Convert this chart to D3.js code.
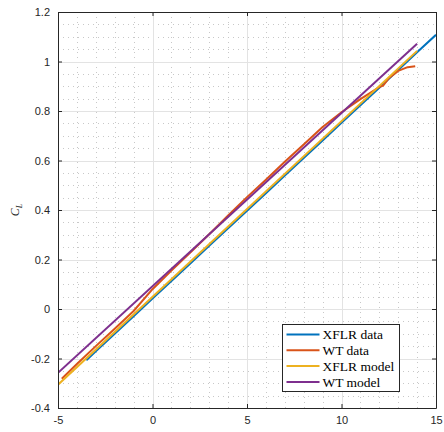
<!DOCTYPE html>
<html>
<head>
<meta charset="utf-8">
<script src="https://cdn.jsdelivr.net/npm/d3@7"></script>
<style>
  html, body { margin: 0; padding: 0; background: #fff; }
  svg { display: block; }
</style>
</head>
<body>
<div id="chart"></div>
<script>
// ---- data ----
const seriesNames = ["XFLR data", "WT data", "XFLR model", "WT model"];
const seriesColors = ["#0072BD", "#D95319", "#EDB120", "#7E2F8E"];

const xflrDataAlpha = [-3.5, -3, -2, -1, 0, 1, 2, 3, 4, 5, 6, 7, 8, 9, 10, 11, 12, 13, 14, 15];
const xflrDataCL    = [-0.207, -0.171, -0.100, -0.029, 0.042, 0.113, 0.184, 0.255, 0.326, 0.397,
                       0.468, 0.539, 0.610, 0.681, 0.752, 0.823, 0.894, 0.966, 1.037, 1.108];

const wtDataAlpha = [-4.8, -4, -3, -2, -1, 0, 1, 2, 3, 4, 5, 6, 7, 8, 9, 10, 11, 11.5, 12, 12.2, 12.5, 13, 13.5, 13.9];
const wtDataCL    = [-0.282, -0.222, -0.150, -0.080, -0.008, 0.080, 0.155, 0.228, 0.302, 0.378, 0.452,
                     0.522, 0.595, 0.665, 0.735, 0.795, 0.848, 0.872, 0.897, 0.903, 0.932, 0.962, 0.977, 0.981];

const xflrModelAlpha = [-5, 14];
const xflrModelCL    = [-0.306, 1.043];

const wtModelAlpha = [-5, 14];
const wtModelCL    = [-0.258, 1.072];

const xTicks = [-5, 0, 5, 10, 15];
const yTicks = [-0.4, -0.2, 0, 0.2, 0.4, 0.6, 0.8, 1, 1.2];
const xTickLabels = ["-5", "0", "5", "10", "15"];
const yTickLabels = ["-0.4", "-0.2", "0", "0.2", "0.4", "0.6", "0.8", "1", "1.2"];

// ---- layout ----
const W = 444, H = 432;
const margin = { left: 58, right: 8, top: 12, bottom: 24 };
const iw = W - margin.left - margin.right;  // 378
const ih = H - margin.top - margin.bottom;  // 396

const svg = d3.select("#chart").append("svg")
  .attr("width", W).attr("height", H);

const x = d3.scaleLinear().domain([-5, 15]).range([0, iw]);
const y = d3.scaleLinear().domain([-0.4, 1.2]).range([ih, 0]);

const g = svg.append("g").attr("transform", `translate(${margin.left},${margin.top})`);

// minor grid (dotted)
const xMinor = d3.range(-5, 15.001, 1).filter(v => !xTicks.includes(v));
const yMinor = d3.range(-0.4, 1.2001, 0.05).map(v => +v.toFixed(2)).filter(v => !yTicks.some(t => Math.abs(t - v) < 1e-6));

g.append("g").selectAll("line").data(xMinor).join("line")
  .attr("x1", d => Math.round(x(d)) + 0.5).attr("x2", d => Math.round(x(d)) + 0.5)
  .attr("y1", 0).attr("y2", ih)
  .attr("stroke", "#c8c8c8").attr("stroke-width", 1).attr("stroke-dasharray", "1,4");
g.append("g").selectAll("line").data(yMinor).join("line")
  .attr("y1", d => Math.round(y(d)) + 0.5).attr("y2", d => Math.round(y(d)) + 0.5)
  .attr("x1", 0).attr("x2", iw)
  .attr("stroke", "#c8c8c8").attr("stroke-width", 1).attr("stroke-dasharray", "1,4");

// major grid
g.append("g").selectAll("line").data(xTicks).join("line")
  .attr("x1", d => Math.round(x(d)) + 0.5).attr("x2", d => Math.round(x(d)) + 0.5)
  .attr("y1", 0).attr("y2", ih)
  .attr("stroke", "#e3e3e3").attr("stroke-width", 1);
g.append("g").selectAll("line").data(yTicks).join("line")
  .attr("y1", d => Math.round(y(d)) + 0.5).attr("y2", d => Math.round(y(d)) + 0.5)
  .attr("x1", 0).attr("x2", iw)
  .attr("stroke", "#e3e3e3").attr("stroke-width", 1);

// series
const series = [
  { a: xflrDataAlpha, c: xflrDataCL },
  { a: wtDataAlpha, c: wtDataCL },
  { a: xflrModelAlpha, c: xflrModelCL },
  { a: wtModelAlpha, c: wtModelCL }
];
const line = d3.line().x(d => x(d[0])).y(d => y(d[1]));
g.append("clipPath").attr("id", "clip").append("rect")
  .attr("x", 0).attr("y", 0).attr("width", iw).attr("height", ih);
const lines = g.append("g").attr("clip-path", "url(#clip)");
series.forEach((s, i) => {
  lines.append("path")
    .datum(s.a.map((v, k) => [v, s.c[k]]))
    .attr("d", line)
    .attr("fill", "none")
    .attr("stroke", seriesColors[i])
    .attr("stroke-width", 2)
    .attr("stroke-linejoin", "round");
});

// axes (ticks inward, box)
const axisColor = "#262626";
const fontFam = "'Liberation Sans', Arial, Helvetica, sans-serif";
const xAxis = d3.axisBottom(x).tickValues(xTicks).tickFormat((d, i) => xTickLabels[i]).tickSizeInner(-4).tickSizeOuter(0).tickPadding(8);
const yAxis = d3.axisLeft(y).tickValues(yTicks).tickFormat((d, i) => yTickLabels[i]).tickSizeInner(-4).tickSizeOuter(0).tickPadding(8);
const xAxisTop = d3.axisTop(x).tickValues(xTicks).tickFormat("").tickSizeInner(-4).tickSizeOuter(0);
const yAxisRight = d3.axisRight(y).tickValues(yTicks).tickFormat("").tickSizeInner(-4).tickSizeOuter(0);

const gx = g.append("g").attr("transform", `translate(0,${ih})`).call(xAxis);
const gy = g.append("g").call(yAxis);
const gxt = g.append("g").call(xAxisTop);
const gyr = g.append("g").attr("transform", `translate(${iw},0)`).call(yAxisRight);
[gx, gy, gxt, gyr].forEach(a => {
  a.selectAll("path.domain").attr("stroke", axisColor).attr("stroke-width", 1);
  a.selectAll(".tick line").attr("stroke", axisColor).attr("stroke-width", 1);
  a.selectAll("text").attr("fill", axisColor).attr("font-size", 11).attr("font-family", fontFam);
});
gx.selectAll("text").attr("dy", "0.71em");

// y label C_L
const yl = svg.append("text")
  .attr("transform", `translate(19,${margin.top + ih / 2}) rotate(-90)`)
  .attr("text-anchor", "middle")
  .attr("font-family", "'Liberation Serif', 'DejaVu Serif', serif")
  .attr("font-style", "italic")
  .attr("font-size", 12)
  .attr("fill", axisColor);
yl.append("tspan").text("C");
yl.append("tspan").attr("font-size", 8).attr("dy", 3).text("L");

// legend
const lg = svg.append("g").attr("transform", "translate(282.5,324.5)");
lg.append("rect").attr("width", 117).attr("height", 67)
  .attr("fill", "#fff").attr("stroke", axisColor).attr("stroke-width", 1);
seriesNames.forEach((name, i) => {
  const yy = 10 + i * 15.8;
  lg.append("line").attr("x1", 4).attr("x2", 37).attr("y1", yy).attr("y2", yy)
    .attr("stroke", seriesColors[i]).attr("stroke-width", 2);
  lg.append("text").attr("x", 40).attr("y", yy).attr("dy", "0.35em")
    .attr("font-family", "'Liberation Serif', 'DejaVu Serif', serif")
    .attr("font-size", 13.5).attr("fill", "#000").text(name);
});
</script>
</body>
</html>
